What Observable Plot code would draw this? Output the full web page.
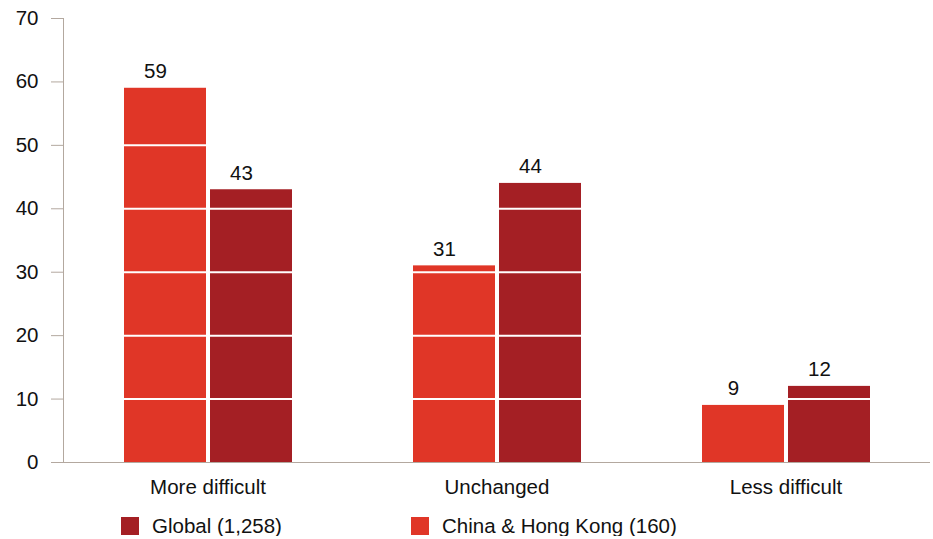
<!DOCTYPE html>
<html>
<head>
<meta charset="utf-8">
<script src="https://cdn.jsdelivr.net/npm/d3@7"></script>
<script src="https://cdn.jsdelivr.net/npm/@observablehq/plot@0.6"></script>
<style>
  body { margin: 0; background: #fff; font-family: "Liberation Sans", Arial, sans-serif; color: #111; }
  #legend { display: flex; margin-top: 14px; padding-left: 121px; font-size: 20.5px; line-height: 20px; }
  #legend .item { display: flex; align-items: center; width: 290px; }
  #legend .swatch { width: 18px; height: 18px; margin-right: 13px; flex: none; }
</style>
</head>
<body>
<div id="chart"></div>
<script>
// Survey answers by category, in percent
const categories = ["More difficult", "Unchanged", "Less difficult"];
const seriesNames = ["China & Hong Kong (160)", "Global (1,258)"];
const chinaHK = [59, 31, 9];
const globalValues = [43, 44, 12];
const seriesColors = ["#E03627", "#A41F24"];
const yTicks = [0, 10, 20, 30, 40, 50, 60, 70];
const legendOrder = ["Global (1,258)", "China & Hong Kong (160)"];

const axisColor = "#B3A89F";
const fontSize = 20.5;

const rows = categories.flatMap((category, i) => [
  {category, series: seriesNames[0], value: chinaHK[i]},
  {category, series: seriesNames[1], value: globalValues[i]}
]);

const chart = Plot.plot({
  width: 933,
  height: 502,
  marginLeft: 62,
  marginRight: 2,
  marginTop: 18,
  marginBottom: 40,
  style: {fontFamily: "'Liberation Sans', Arial, sans-serif", fontSize: `${fontSize}px`, color: "#111", background: "#fff"},
  fx: {domain: categories, padding: 0, label: null},
  x: {domain: seriesNames, paddingInner: 0.05, paddingOuter: 0.7, axis: null},
  y: {domain: [0, 70], label: null},
  color: {domain: seriesNames, range: seriesColors},
  marks: [
    Plot.barY(rows, {fx: "category", x: "series", y: "value", fill: "series"}),
    // white grid lines cut across the bars
    Plot.gridY(yTicks.filter(t => t > 0), {stroke: "white", strokeOpacity: 1, strokeWidth: 2}),
    Plot.ruleY([0], {stroke: axisColor, strokeWidth: 1}),
    Plot.frame({anchor: "left", stroke: axisColor, facetAnchor: "left"}),
    Plot.axisY(yTicks, {tickSize: 12, tickPadding: 13, stroke: axisColor, fill: "#111", fontSize, label: null}),
    Plot.axisFx({anchor: "bottom", tickSize: 0, tickPadding: 17, fontSize, fill: "#111", label: null}),
    Plot.text(rows, {fx: "category", x: "series", y: "value", text: "value", dx: -10, dy: -10, lineAnchor: "bottom", fontSize, fill: "#111"})
  ]
});
document.getElementById("chart").append(chart);

// legend below the plot
const legend = document.createElement("div");
legend.id = "legend";
for (const name of legendOrder) {
  const item = document.createElement("div");
  item.className = "item";
  const sw = document.createElement("span");
  sw.className = "swatch";
  sw.style.background = seriesColors[seriesNames.indexOf(name)];
  const label = document.createElement("span");
  label.textContent = name;
  item.append(sw, label);
  legend.append(item);
}
document.body.append(legend);
</script>
</body>
</html>
